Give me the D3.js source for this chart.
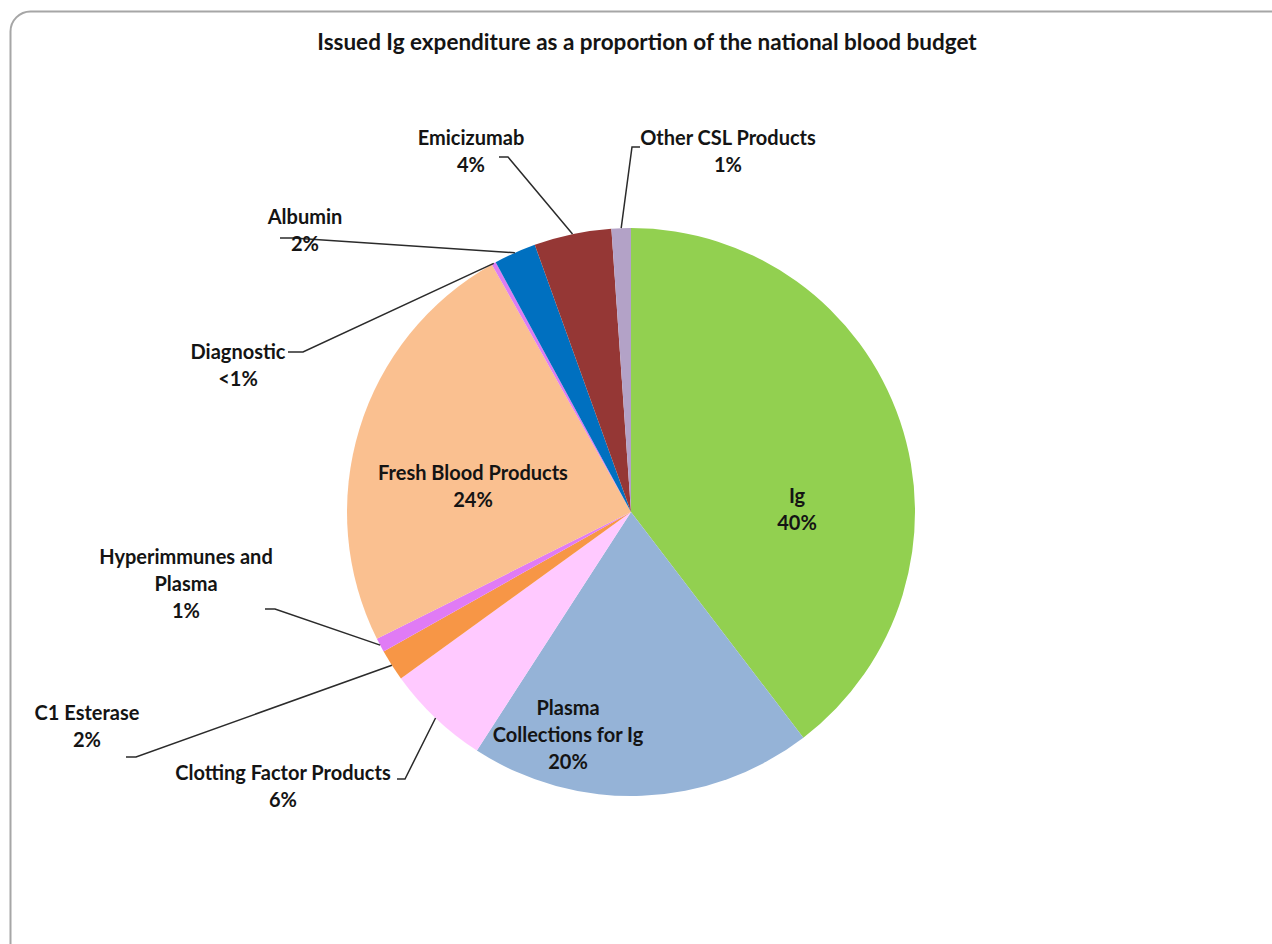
<!DOCTYPE html>
<html>
<head>
<meta charset="utf-8">
<script src="https://cdn.jsdelivr.net/npm/d3@7"></script>
<style>
  html, body { margin: 0; padding: 0; background: #ffffff; }
  svg { display: block; }
  text { font-family: Lato, "Open Sans", sans-serif; font-weight: 700; fill: #141414; }
</style>
</head>
<body>
<svg id="chart" width="1272" height="944"></svg>
<script>
// Budget shares (%) going clockwise from 12 o'clock
const categories = [
  "Ig",
  "Plasma Collections for Ig",
  "Clotting Factor Products",
  "C1 Esterase",
  "Hyperimmunes and Plasma",
  "Fresh Blood Products",
  "Diagnostic",
  "Albumin",
  "Emicizumab",
  "Other CSL Products"
];
const shares = [39.6, 19.5, 5.9, 1.8, 0.8, 24.2, 0.25, 2.4, 4.4, 1.1];
const sliceColors = ["#92D050", "#95B3D7", "#FFC9FF", "#F79646", "#E07BF5",
                     "#FAC090", "#DD7CF2", "#0070C0", "#953735", "#B3A2C7"];
// How each label's name is broken into lines
const labelLines = [
  ["Ig"],
  ["Plasma", "Collections for Ig"],
  ["Clotting Factor Products"],
  ["C1 Esterase"],
  ["Hyperimmunes and", "Plasma"],
  ["Fresh Blood Products"],
  ["Diagnostic"],
  ["Albumin"],
  ["Emicizumab"],
  ["Other CSL Products"]
];
const title = "Issued Ig expenditure as a proportion of the national blood budget";

// Label layout: centre x, first baseline y, and (optional) leader line start/elbow
const labelLayout = [
  { x: 797, y: 503 },
  { x: 568, y: 715 },
  { x: 283, y: 780, leader: [[397, 779], [405, 779]] },
  { x: 87,  y: 720, leader: [[126, 757], [136, 757]] },
  { x: 186, y: 564, leader: [[265, 609], [275, 609]] },
  { x: 473, y: 480 },
  { x: 238, y: 359, leader: [[288, 352], [303, 352]] },
  { x: 305, y: 224, leader: [[280, 238], [293, 238]] },
  { x: 471, y: 145, leader: [[499, 157], [508, 157]] },
  { x: 728, y: 145, leader: [[640, 147], [632, 147]] }
];

const svg = d3.select("#chart");
const cx = 631, cy = 512, radius = 284;
const lineH = 27;

// Chart frame
svg.append("rect")
  .attr("x", 10.5).attr("y", 11.5)
  .attr("width", 1290).attr("height", 960)
  .attr("rx", 20).attr("ry", 20)
  .attr("fill", "#ffffff")
  .attr("stroke", "#a6a6a6")
  .attr("stroke-width", 2);

// Title
svg.append("text")
  .attr("x", 647).attr("y", 50)
  .attr("text-anchor", "middle")
  .style("font-size", "22.5px")
  .text(title);

const data = categories.map((c, i) => ({ name: c, value: shares[i], color: sliceColors[i], i }));

const pie = d3.pie().sort(null).value(d => d.value).startAngle(0).endAngle(2 * Math.PI);
const arcs = pie(data);
const arc = d3.arc().innerRadius(0).outerRadius(radius);

const g = svg.append("g").attr("transform", `translate(${cx},${cy})`);
g.selectAll("path.slice")
  .data(arcs)
  .join("path")
  .attr("class", "slice")
  .attr("d", arc)
  .attr("fill", d => d.data.color);

const pctLabel = v => v < 0.5 ? "<1%" : Math.round(v) + "%";

// Leader lines from label to outer edge of slice at its mid-angle
arcs.forEach(a => {
  const lay = labelLayout[a.data.i];
  if (!lay.leader) return;
  const mid = (a.startAngle + a.endAngle) / 2;
  const ex = cx + radius * Math.sin(mid);
  const ey = cy - radius * Math.cos(mid);
  const pts = lay.leader.concat([[ex, ey]]);
  svg.append("path")
    .attr("d", d3.line()(pts))
    .attr("fill", "none")
    .attr("stroke", "#2b2b2b")
    .attr("stroke-width", 1.5);
});

// Labels: name lines then percentage
arcs.forEach(a => {
  const lay = labelLayout[a.data.i];
  const lines = labelLines[a.data.i].concat([pctLabel(a.data.value)]);
  const t = svg.append("text")
    .attr("text-anchor", "middle")
    .style("font-size", "20px");
  lines.forEach((ln, k) => {
    t.append("tspan").attr("x", lay.x).attr("y", lay.y + k * lineH).text(ln);
  });
});
</script>
</body>
</html>
